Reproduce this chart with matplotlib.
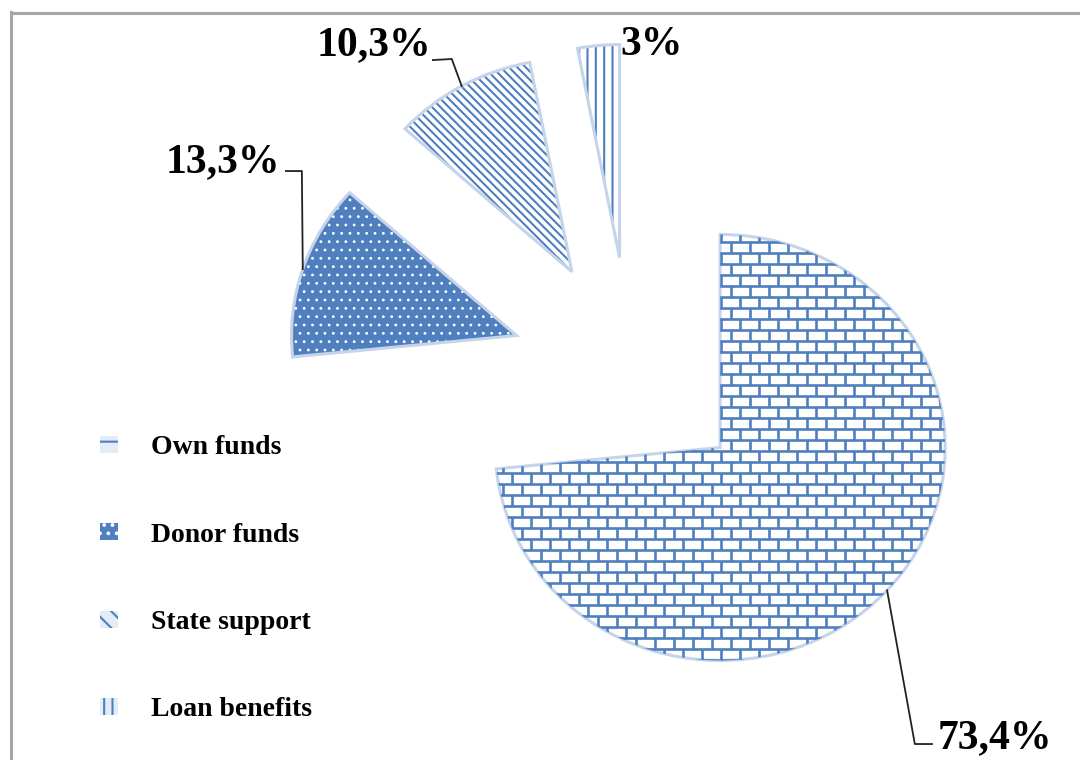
import numpy as np
import matplotlib.pyplot as plt
from matplotlib.patches import Wedge, Rectangle
from matplotlib.collections import LineCollection
from matplotlib.lines import Line2D

# funding structure, shares in percent
sources = ['Own funds', 'Donor funds', 'State support', 'Loan benefits']
shares = [73.4, 13.3, 10.3, 3.0]
share_labels = ['73,4%', '13,3%', '10,3%', '3%']
hatches = ['', '..', '\\\\\\\\', '||']

blue = '#4f7fbe'
pale = '#c5d4eb'

plt.rcParams['font.family'] = ['Liberation Serif', 'DejaVu Serif']
plt.rcParams['font.weight'] = 'bold'
plt.rcParams['hatch.color'] = blue
plt.rcParams['hatch.linewidth'] = 1.5

fig = plt.figure(figsize=(10.8, 7.6), dpi=100)
ax = fig.add_axes([0, 0, 1, 1])

wedges, _ = ax.pie(shares, startangle=90, counterclock=False,
                   explode=[0.535] * len(shares),
                   colors=['white', blue, 'white', 'white'],
                   hatch=hatches, wedgeprops=dict(linewidth=0))
# small white dots on the donor slice
wedges[1].set_edgecolor('white')
if hasattr(wedges[1], 'set_hatch_linewidth'):
    wedges[1].set_hatch_linewidth(0.8)

# soft light-blue outline around every slice
for w in wedges:
    ax.add_patch(Wedge(w.center, w.r, w.theta1, w.theta2, fill=False,
                       edgecolor=pale, linewidth=2.2))

# brick pattern for the own funds slice
big = wedges[0]
cx, cy = big.center
dx, dy = 19 / 225, 11 / 213
rows = np.arange(cy - 1.05, cy + 1.05, dy)
segs = [[(cx - 1.05, y), (cx + 1.05, y)] for y in rows]
for i, y in enumerate(rows[:-1]):
    start = cx - 1.05 + (i % 2) * dx / 2
    for x in np.arange(start, cx + 1.05, dx):
        segs.append([(x, y), (x, y + dy)])
bricks = LineCollection(segs, colors=blue, linewidths=1.9)
ax.add_collection(bricks)
bricks.set_clip_path(big)


def arc_mid(w):
    t = np.deg2rad((w.theta1 + w.theta2) / 2)
    return w.center[0] + w.r * np.cos(t), w.center[1] + w.r * np.sin(t)


lab_kw = dict(fontsize=30, fontweight='bold', va='baseline')

# 73,4% with leader down to the right
x0, y0 = arc_mid(wedges[0])
ax.plot([x0, 1.262, 1.338], [y0, -1.751, -1.751], color='#222222', lw=1.3)
ax.text(1.365, -1.77, share_labels[0], ha='left', **lab_kw)

# 13,3% with elbow leader
x1, y1 = arc_mid(wedges[1])
ax.plot([x1, x1 - 0.004, x1 - 0.075], [y1, 0.939, 0.939], color='#222222', lw=1.3)
ax.text(-1.56, 0.934, share_labels[1], ha='right', **lab_kw)

# 10,3%
x2, y2 = arc_mid(wedges[2])
ax.plot([x2, -0.796, -0.88], [y2, 1.465, 1.46], color='#222222', lw=1.3)
ax.text(-1.144, 1.484, share_labels[2], ha='center', **lab_kw)

# 3%
ax.text(-0.045, 1.484, share_labels[3], ha='left', **lab_kw)

ax.set_xlim(-2.804, 1.996)
ax.set_ylim(-1.826, 1.742)
ax.set_aspect('auto')
ax.axis('off')

# legend swatches
swatches = [
    Rectangle((0, 0), 1, 1, facecolor='#e4ecf7', hatch='-', linewidth=0),
    Rectangle((0, 0), 1, 1, facecolor=blue, hatch='..', edgecolor='white', linewidth=0),
    Rectangle((0, 0), 1, 1, facecolor='#e4ecf7', hatch='\\\\', linewidth=0),
    Rectangle((0, 0), 1, 1, facecolor='#e4ecf7', hatch='||', linewidth=0),
]
ax.legend(swatches, sources, loc='upper left', bbox_to_anchor=(100 / 1080, 1 - 435 / 760),
          frameon=False, prop=dict(size=20, weight='bold'), handlelength=0.65,
          handleheight=0.55, handletextpad=1.2, labelspacing=2.25,
          borderpad=0, borderaxespad=0)

# frame edges of the chart area
fig.add_artist(Line2D([11 / 1080, 11 / 1080], [0, 1 - 12 / 760],
                      transform=fig.transFigure, color='#a6a6a6', lw=2.2))
fig.add_artist(Line2D([11 / 1080, 1], [1 - 13 / 760, 1 - 13 / 760],
                      transform=fig.transFigure, color='#a6a6a6', lw=2.2))

fig.savefig('out.png', dpi=100)
